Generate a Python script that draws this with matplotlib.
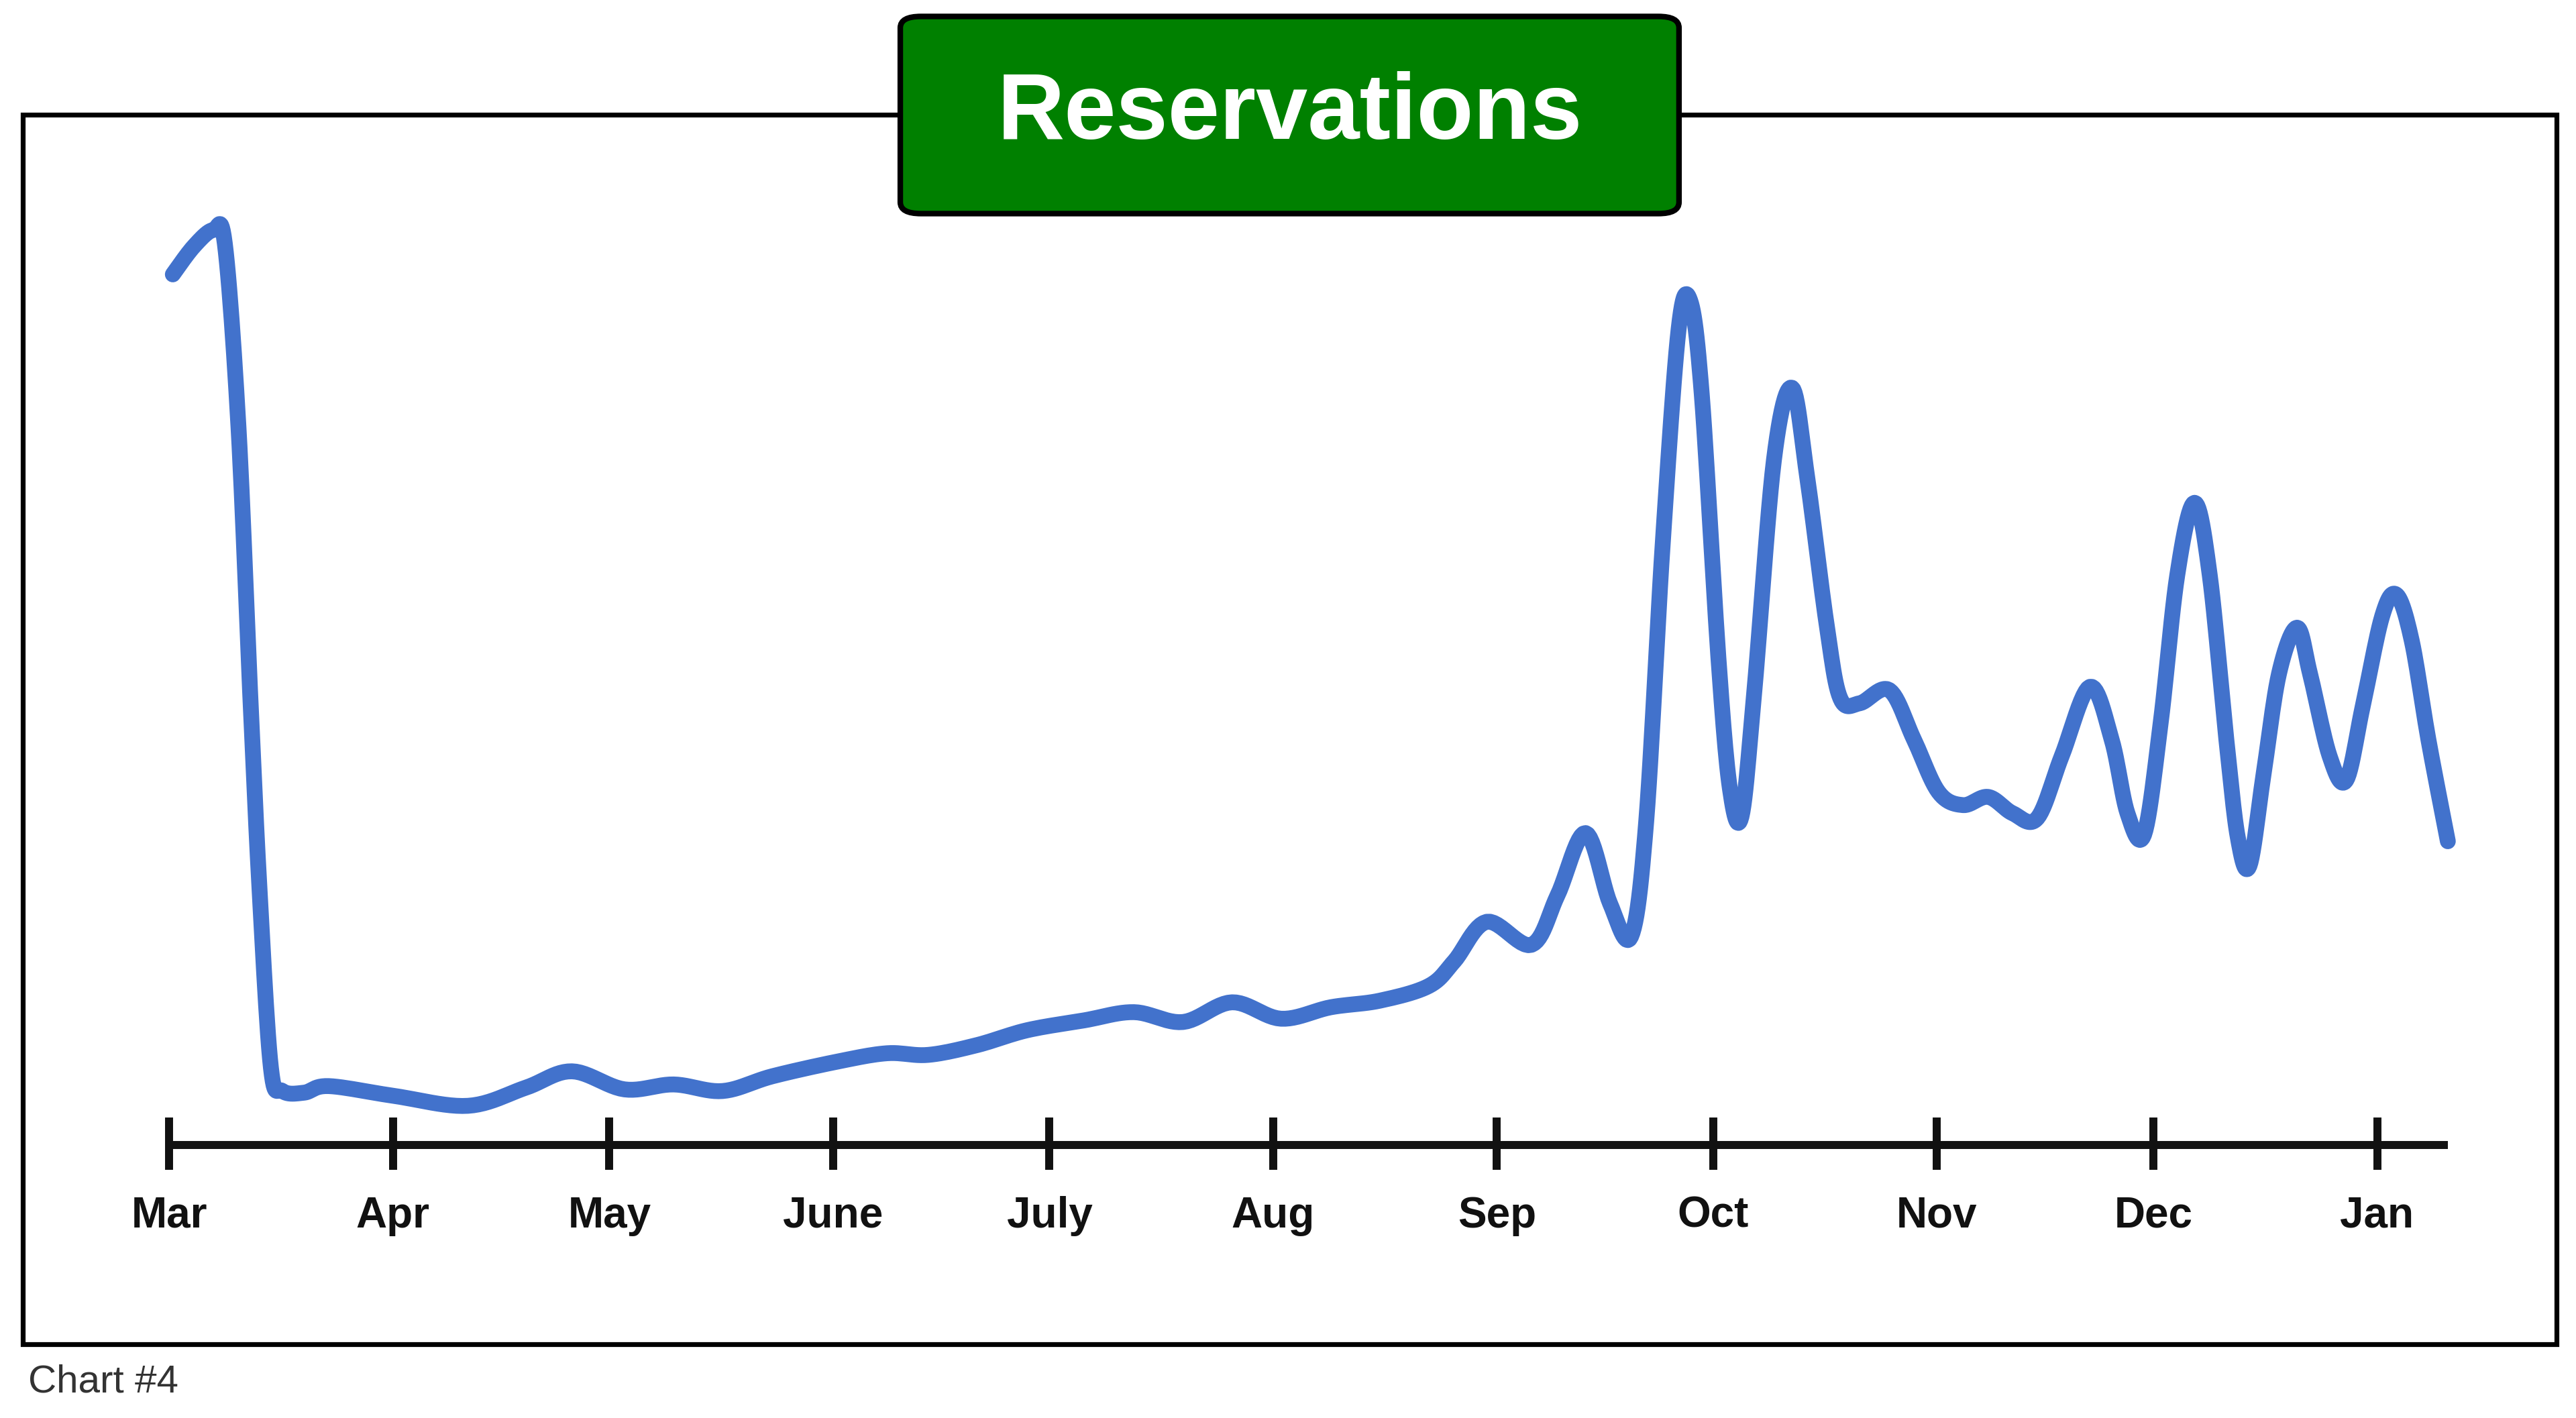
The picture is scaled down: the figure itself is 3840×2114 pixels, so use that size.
import matplotlib
matplotlib.use("Agg")
import matplotlib.pyplot as plt
from matplotlib.patches import Rectangle, FancyBboxPatch

# days since Mar 1, reservations (arbitrary units)
days = [0.5, 3.4, 6.1, 7.7, 9.6, 11.2, 12.5, 14.1, 15.7, 18.7, 22.1, 31.2, 41.4, 49.4, 55.8,
        63.1, 69.9, 76.7, 83.6, 92.7, 99.5, 105.2, 112.0, 118.9, 126.8, 133.7, 140.5, 147.3,
        154.1, 161.0, 167.8, 174.6, 178.1, 182.6, 188.8, 192.4, 196.3, 199.7, 202.6, 204.7,
        207.0, 209.2, 210.8, 212.4, 214.7, 216.3, 217.9, 219.7, 222.4, 224.9, 227.0, 229.7,
        231.6, 234.3, 238.4, 241.8, 245.2, 248.6, 252.1, 255.5, 258.9, 262.3, 266.2, 269.2,
        271.4, 273.7, 276.0, 278.3, 280.7, 282.8, 285.1, 286.7, 288.3, 290.3, 292.4, 294.9,
        296.7, 299.4, 301.7, 304.0, 306.7, 308.7, 310.8, 313.1, 315.8]
values = [530, 547, 557, 549, 437, 277, 157, 47, 33, 32, 36, 30, 24, 35, 45,
          34, 37, 33, 42, 51, 56, 55, 61, 70, 76, 81, 75, 87,
          77, 84, 88, 97, 112, 136, 122, 152, 190, 147, 127, 197,
          367, 497, 514, 457, 297, 217, 200, 277, 417, 461, 407, 317,
          272, 269, 277, 247, 215, 207, 212, 202, 199, 237, 279, 247,
          202, 189, 257, 347, 391, 347, 247, 187, 170, 227, 287, 315,
          287, 237, 222, 267, 322, 335, 307, 247, 185]
month_labels = ["Mar", "Apr", "May", "June", "July", "Aug", "Sep", "Oct", "Nov", "Dec", "Jan"]
month_days = [0, 31, 61, 92, 122, 153, 184, 214, 245, 275, 306]


def smooth(xs, ys, n=12):
    # Catmull-Rom pass so the line renders as a smooth curve
    px = [xs[0]] + list(xs) + [xs[-1]]
    py = [ys[0]] + list(ys) + [ys[-1]]
    ox, oy = [], []
    for i in range(1, len(px) - 2):
        for k in range(n):
            t = k / n
            t2, t3 = t * t, t * t * t
            def cr(p):
                return 0.5 * (2 * p[i] + (-p[i-1] + p[i+1]) * t
                              + (2*p[i-1] - 5*p[i] + 4*p[i+1] - p[i+2]) * t2
                              + (-p[i-1] + 3*p[i] - 3*p[i+1] + p[i+2]) * t3)
            ox.append(cr(px)); oy.append(cr(py))
    ox.append(xs[-1]); oy.append(ys[-1])
    return ox, oy


W, H = 1568, 863
fig = plt.figure(figsize=(19.2, 10.57), dpi=200)
ax = fig.add_axes([0, 0, 1, 1])
ax.set_xlim((0 - 103) / 4.392, (W - 103) / 4.392)
ax.set_ylim(697 - H, 697)
ax.axis("off")

def fx(px): return px / W
def fy(py): return 1 - py / H

# outer frame
fig.patches.append(Rectangle((fx(14), fy(818)), fx(1556) - fx(14), fy(70) - fy(818),
                             transform=fig.transFigure, fill=False, lw=2.6, ec="black", zorder=1))
# title box
fig.patches.append(FancyBboxPatch((fx(548), fy(130)), fx(1022) - fx(548), fy(10) - fy(130),
                                  boxstyle="round,pad=0,rounding_size=0.008",
                                  transform=fig.transFigure, fc="#008000", ec="black", lw=3, zorder=5))
fig.text(fx(785), fy(70), "Reservations", color="white", fontsize=50, fontweight="bold",
         family="Liberation Sans", ha="center", va="center", zorder=6)
fig.text(fx(17), fy(841), "Chart #4", color="#333333", fontsize=21, family="Liberation Sans",
         ha="left", va="center")

# axis line and ticks
ax.plot([0, (1490 - 103) / 4.392], [0, 0], color="#111111", lw=4.3, solid_capstyle="butt", zorder=2)
for d, lab in zip(month_days, month_labels):
    ax.plot([d, d], [-15, 17], color="#111111", lw=4.3, solid_capstyle="butt", zorder=2)
    ax.text(d, -43, lab, ha="center", va="center", fontsize=23, fontweight="bold",
            family="Liberation Sans", color="#111111")

sx, sy = smooth(days, values)
ax.plot(sx, sy, color="#4272cc", lw=8.5, solid_capstyle="round", solid_joinstyle="round", zorder=3)

fig.savefig("out.png", dpi=200)
